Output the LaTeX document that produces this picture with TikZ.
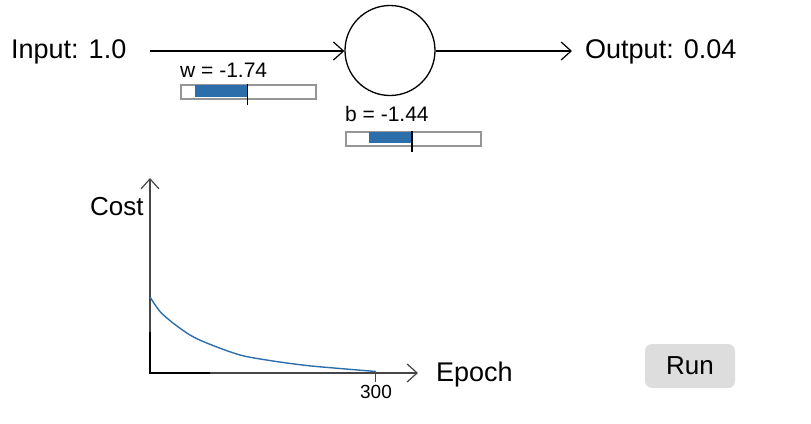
\documentclass[tikz,border=0pt]{standalone}
\usepackage{fontspec}
\setmainfont{Liberation Sans}
\usetikzlibrary{arrows.meta}
\definecolor{sliderblue}{RGB}{44,110,170}
\definecolor{slidergray}{RGB}{150,150,150}
\definecolor{btngray}{RGB}{221,221,221}
\definecolor{axisgray}{RGB}{70,70,70}
\begin{document}
\begin{tikzpicture}[x=1pt,y=-1pt,
  lbl/.style={inner sep=0pt, anchor=base west, font=\fontsize{27}{32}\selectfont},
  small/.style={inner sep=0pt, anchor=base west, font=\fontsize{21}{25}\selectfont},
  conn/.style={line width=1.2pt, -{Straight Barb[length=10pt,width=18pt,line width=1.2pt]}},
  track/.style={draw=slidergray, line width=1.5pt, fill=white, inner sep=0pt, anchor=north west, minimum width=135pt, minimum height=14pt},
  tickmark/.style={line width=1.2pt, draw=black},
  curve/.style={draw=sliderblue, line width=1.4pt}
]
\useasboundingbox (0,0) rectangle (811,423);

% neuron and input/output
\node[lbl] (input) at (11,58) {Input: 1.0};
\node[draw, circle, minimum size=90pt, inner sep=0pt, line width=1.3pt] (neuron) at (390,50.5) {};
\node[lbl] (output) at (585,58) {Output: 0.04};
\coordinate (inStart) at (150,51);
\coordinate (outEnd) at (572,51);
\draw[conn] (inStart) -- (inStart -| neuron.west);
\draw[conn] (outEnd -| neuron.east) -- (outEnd);

% w slider
\node[small] (wlabel) at (180,77) {w = -1.74};
\node[track] (wtrack) at (180,84) {};
\fill[sliderblue] (195,85) rectangle (247.7,97);
\draw[tickmark] (247.7,84) -- (247.7,105);

% b slider
\node[small] (blabel) at (345,121.5) {b = -1.44};
\node[track] (btrack) at (345,131) {};
\fill[sliderblue] (369,132) rectangle (412,143);
\draw[tickmark] (412,131) -- (412,152);

% cost graph
\coordinate (origin) at (150,373);
\coordinate (ytop) at (150,178);
\coordinate (xend) at (418,373);
\draw[conn, draw=axisgray] (origin) -- (ytop);
\draw[conn, draw=axisgray] (origin) -- (xend);
\draw[line width=1.2pt] (150,373) -- (150,332);
\draw[line width=1.2pt] (149.4,373) -- (210,373);
\node[lbl, font=\fontsize{26}{30}\selectfont] (cost) at (90,215) {Cost};
\node[lbl] (epoch) at (436,381) {Epoch};
\draw[line width=1pt, draw=axisgray] (375,373) -- (375,382);
\node[inner sep=0pt, anchor=base, font=\fontsize{19}{23}\selectfont] (t300) at (376,398) {300};
\draw[curve] plot[smooth] coordinates {(150,297) (160,311.5) (173,323) (190,335) (206.7,343) (240,355) (273,361) (306.7,365.5) (340,368.5) (376,371.5)};

% run button
\node[fill=btngray, rounded corners=7pt, minimum width=90pt, minimum height=44pt, inner sep=0pt, font=\fontsize{26}{30}\selectfont] (run) at (690,366) {Run};
\end{tikzpicture}
\end{document}
